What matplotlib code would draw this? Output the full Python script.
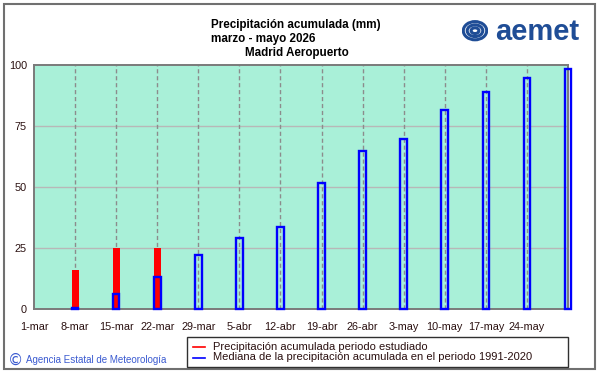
import matplotlib
matplotlib.use("Agg")
import matplotlib.pyplot as plt
from matplotlib.patches import Rectangle, Ellipse
from matplotlib.lines import Line2D

plt.rcParams["font.family"] = ["Liberation Sans", "DejaVu Sans"]

# Datos (mm acumulados por semana)
semanas = ["1-mar", "8-mar", "15-mar", "22-mar", "29-mar", "5-abr", "12-abr",
           "19-abr", "26-abr", "3-may", "10-may", "17-may", "24-may"]
acumulada = [16.0, 24.8, 24.8]                     # 8-mar .. 22-mar
mediana = [0.6, 6.2, 13.3, 22.0, 29.0, 33.6, 51.6,
           64.6, 69.6, 81.6, 89.0, 94.6, 98.3]     # 8-mar .. 31-may

W, H = 601, 374
fig = plt.figure(figsize=(W / 100, H / 100), dpi=100)
fig.patch.set_facecolor("white")


def fx(px):
    return px / W


def fy(py):
    return 1 - py / H


# marco exterior
fig.patches.append(Rectangle((fx(4), fy(369)), fx(591), 365 / H, transform=fig.transFigure,
                             fill=False, edgecolor="#707070", linewidth=1.5))

ax = fig.add_axes([fx(34), fy(309), fx(534), 244 / H])
ax.set_facecolor("#a9f0d8")
ax.set_xlim(0, 13)
ax.set_ylim(0, 100)

# rejilla
for v in (25, 50, 75):
    ax.axhline(v, color="#b8b8b8", linewidth=1.0, zorder=1)
for i in range(1, 13):
    ax.axvline(i, color="#8c8c8c", linewidth=1.0, linestyle=(0, (3, 2)), zorder=1)

x_red = list(range(1, 1 + len(acumulada)))
x_blue = list(range(1, 1 + len(mediana)))
ax.bar(x_red, acumulada, width=0.17, color="#ff0000", zorder=2)
ax.bar(x_blue, mediana, width=0.16, fill=False, edgecolor="#0000ff",
       linewidth=1.7, zorder=3, clip_on=False)

ax.set_xticks(range(len(semanas)))
ax.set_xticklabels(semanas)
ax.set_yticks([0, 25, 50, 75, 100])
ax.tick_params(axis="both", length=0, labelsize=7.8, colors="#2a1010")
ax.tick_params(axis="x", pad=9)
ax.tick_params(axis="y", pad=5)
for s in ax.spines.values():
    s.set_color("#7a7a7a")
    s.set_linewidth(1.4)

# titulo
tkw = dict(fontsize=8.4, fontweight="bold", color="black", transform=fig.transFigure, va="center")
fig.text(fx(211), fy(25), "Precipitación acumulada (mm)", ha="left", **tkw)
fig.text(fx(211), fy(39), "marzo - mayo 2026", ha="left", **tkw)
fig.text(fx(245), fy(53), "Madrid Aeropuerto", ha="left", **tkw)

# logo
fig.text(fx(495), fy(32), "aemet", fontsize=21, fontweight="bold", color="#1f4d96",
         ha="left", va="center", transform=fig.transFigure)
lax = fig.add_axes([fx(462), fy(45), fx(26), 26 / H])
lax.set_xlim(0, 1)
lax.set_ylim(0, 1)
lax.axis("off")
for w, h in [(0.9, 0.7), (0.6, 0.45), (0.3, 0.22)]:
    lax.add_patch(Ellipse((0.5, 0.55), w, h, fill=False, edgecolor="#1f4d96", linewidth=2.2))

# leyenda
fig.patches.append(Rectangle((fx(187), fy(367)), fx(381), 30 / H, transform=fig.transFigure,
                             facecolor="white", edgecolor="#303030", linewidth=1.0))
for yy, col, txt in [(347, "#ff0000", "Precipitación acumulada periodo estudiado"),
                     (357.5, "#0000ff", "Mediana de la precipitación acumulada en el periodo 1991-2020")]:
    fig.lines.append(Line2D([fx(193), fx(205)], [fy(yy), fy(yy)], transform=fig.transFigure,
                            color=col, linewidth=1.2))
    fig.text(fx(213), fy(yy), txt, fontsize=8.0, color="#2a1010", ha="left", va="center",
             transform=fig.transFigure)

fig.text(fx(16), fy(360), "\u00a9", fontsize=11, color="#3a5ad0", ha="center", va="center",
         transform=fig.transFigure, family=["DejaVu Sans"])
fig.text(fx(26), fy(360), "Agencia Estatal de Meteorología", fontsize=7.0, color="#3a5ad0",
         ha="left", va="center", transform=fig.transFigure)

fig.savefig("out.png", dpi=100)
